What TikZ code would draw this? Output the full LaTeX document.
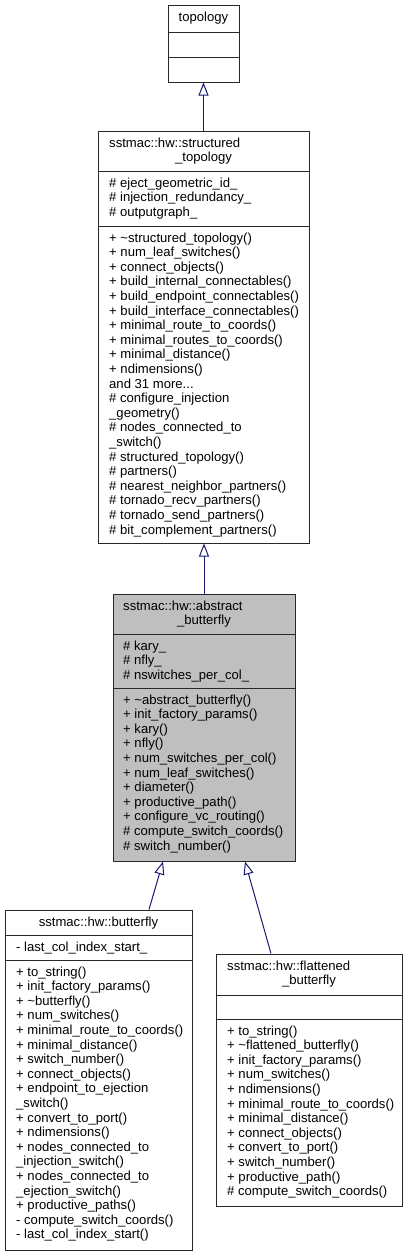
\documentclass[tikz,border=0pt]{standalone}
\usepackage{fontspec}
\setmainfont{Liberation Sans}
\usetikzlibrary{arrows.meta}
\definecolor{edgeblue}{RGB}{25,25,112}
\definecolor{focusgray}{RGB}{191,191,191}
\definecolor{boxline}{RGB}{40,40,40}
\newcommand{\tdots}{...}
\newcommand{\classlines}[4]{%
  \foreach \t [count=\i] in {#4} {\node[txt] (#1\i) at (#2, {#3+(\i-1)*14.6}) {\t};}}
\begin{document}
\begin{tikzpicture}[x=1pt,y=-1pt, font=\fontsize{13.1}{14.6}\selectfont,
 cls/.style={draw=boxline, line width=1pt, rectangle, inner sep=0pt, fill=white},
 focus/.style={cls, fill=focusgray},
 div/.style={draw=boxline, line width=1pt},
 txt/.style={anchor=base west, inner sep=0pt},
 ttl/.style={anchor=base, inner sep=0pt},
 inh/.style={draw=edgeblue, line width=1pt, -{Triangle[open, length=13pt, width=10pt]}}]
\useasboundingbox (0,0) rectangle (408,1256);

% ---- class boxes
\node[cls, minimum width=71pt, minimum height=77pt] (topo) at (203.5,43.5) {};
\node[cls, minimum width=211pt, minimum height=412pt] (st) at (203.5,337) {};
\node[focus, minimum width=182pt, minimum height=267pt] (ab) at (204,727.5) {};
\node[cls, minimum width=187pt, minimum height=340pt] (bf) at (98.5,1080) {};
\node[cls, minimum width=186pt, minimum height=252pt] (fb) at (309,1080) {};

% ---- compartment dividers
\draw[div] (168,32) -- (239,32);
\draw[div] (168,57) -- (239,57);
\draw[div] (98,171) -- (309,171);
\draw[div] (98,226) -- (309,226);
\draw[div] (113,634) -- (295,634);
\draw[div] (113,688) -- (295,688);
\draw[div] (5,935) -- (192,935);
\draw[div] (5,960) -- (192,960);
\draw[div] (216,995) -- (402,995);
\draw[div] (216,1019) -- (402,1019);

% ---- titles
\node[ttl] (topot) at (203.5,21.5) {topology};
\node[txt] (stt1) at (109,147) {sstmac::hw::structured};
\node[ttl] (stt2) at (203.5,161.6) {\_topology};
\node[txt] (abt1) at (123,610) {sstmac::hw::abstract};
\node[ttl] (abt2) at (204,624.6) {\_butterfly};
\node[ttl] (bft) at (98.5,926) {sstmac::hw::butterfly};
\node[txt] (fbt1) at (227,970) {sstmac::hw::flattened};
\node[ttl] (fbt2) at (309,984.6) {\_butterfly};

% ---- structured_topology
\classlines{sta}{109}{187}{{\# eject\_geometric\_id\_},{\# injection\_redundancy\_},{\# outputgraph\_}}
\classlines{stm}{109}{242}{{+ \textasciitilde structured\_topology()},{+ num\_leaf\_switches()},{+ connect\_objects()},{+ build\_internal\_connectables()},{+ build\_endpoint\_connectables()},{+ build\_interface\_connectables()},{+ minimal\_route\_to\_coords()},{+ minimal\_routes\_to\_coords()},{+ minimal\_distance()},{+ ndimensions()},{and 31 more\tdots},{\# configure\_injection},{\_geometry()},{\# nodes\_connected\_to},{\_switch()},{\# structured\_topology()},{\# partners()},{\# nearest\_neighbor\_partners()},{\# tornado\_recv\_partners()},{\# tornado\_send\_partners()},{\# bit\_complement\_partners()}}

% ---- abstract_butterfly
\classlines{aba}{123}{650}{{\# kary\_},{\# nfly\_},{\# nswitches\_per\_col\_}}
\classlines{abm}{123}{704}{{+ \textasciitilde abstract\_butterfly()},{+ init\_factory\_params()},{+ kary()},{+ nfly()},{+ num\_switches\_per\_col()},{+ num\_leaf\_switches()},{+ diameter()},{+ productive\_path()},{+ configure\_vc\_routing()},{\# compute\_switch\_coords()},{\# switch\_number()}}

% ---- butterfly
\classlines{bfa}{16}{951}{{- last\_col\_index\_start\_}}
\classlines{bfm}{16}{976}{{+ to\_string()},{+ init\_factory\_params()},{+ \textasciitilde butterfly()},{+ num\_switches()},{+ minimal\_route\_to\_coords()},{+ minimal\_distance()},{+ switch\_number()},{+ connect\_objects()},{+ endpoint\_to\_ejection},{\_switch()},{+ convert\_to\_port()},{+ ndimensions()},{+ nodes\_connected\_to},{\_injection\_switch()},{+ nodes\_connected\_to},{\_ejection\_switch()},{+ productive\_paths()},{- compute\_switch\_coords()},{- last\_col\_index\_start()}}

% ---- flattened_butterfly
\classlines{fbm}{227}{1035}{{+ to\_string()},{+ \textasciitilde flattened\_butterfly()},{+ init\_factory\_params()},{+ num\_switches()},{+ ndimensions()},{+ minimal\_route\_to\_coords()},{+ minimal\_distance()},{+ connect\_objects()},{+ convert\_to\_port()},{+ switch\_number()},{+ productive\_path()},{\# compute\_switch\_coords()}}

% ---- inheritance connectors
\draw[inh] (st.north) -- (topo.south);
\draw[inh] (ab.north) -- (ab.north |- st.south);
\draw[inh] ([xshift=50.5pt]bf.north) -- ([xshift=-41pt]ab.south);
\draw[inh] ([xshift=-38pt]fb.north) -- ([xshift=41pt]ab.south);
\end{tikzpicture}
\end{document}
